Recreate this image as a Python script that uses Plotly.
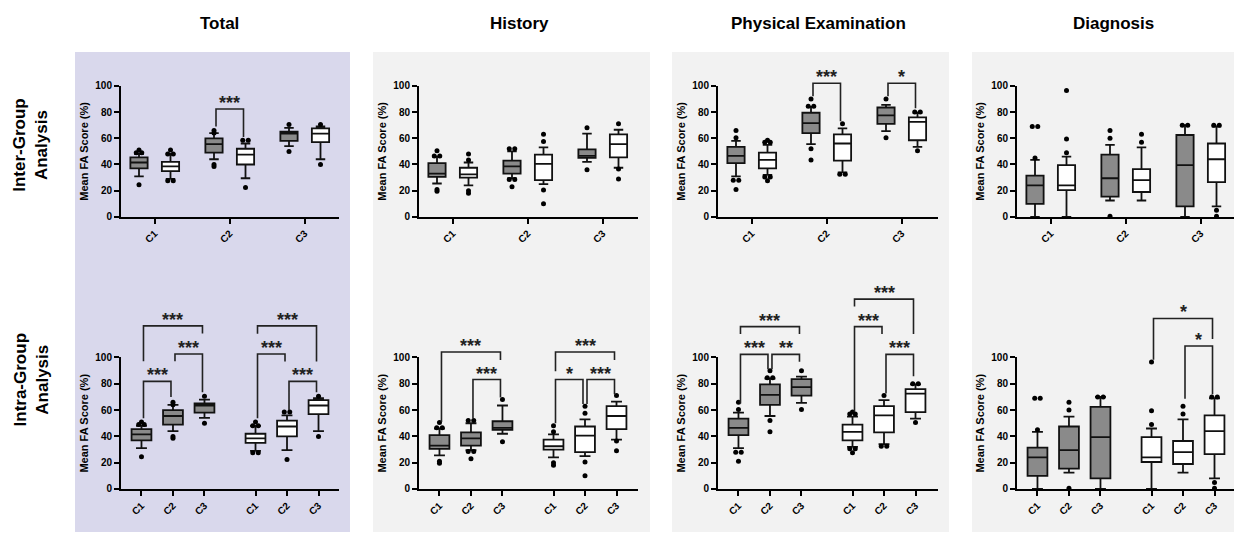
import plotly.graph_objects as go

# ---------------- data ----------------
categories = ["C1", "C2", "C3"]
panel_titles = ["Total", "History", "Physical Examination", "Diagnosis"]
row_titles = ["Inter-Group<br>Analysis", "Intra-Group<br>Analysis"]
y_ticks = [0, 20, 40, 60, 80, 100]
y_title = "Mean FA Score (%)"

# box statistics per category: [lower fence, Q1, median, Q3, upper fence]
total_gray = [[31, 37, 41.5, 45.5, 48], [44, 49, 55.5, 60, 64], [54, 58, 63.5, 65, 68]]
total_white = [[29, 35, 38.5, 42, 48], [29.5, 40, 47.5, 52, 56], [44, 57, 63.5, 67.5, 69]]
total_gray_out = [[24.5, 49, 49, 51], [38.5, 40, 64, 66], [50, 70.5]]
total_white_out = [[27.5, 27.5, 48, 48, 51], [22.5, 58.5, 58.5], [40, 70.5]]

history_gray = [[25.5, 30.5, 33, 41, 46], [29.5, 33, 38.5, 43, 50], [42, 45, 46.5, 51.5, 63.5]]
history_white = [[24, 30, 32.5, 37.5, 41.5], [25, 28, 40.5, 47.5, 53], [37.5, 45.5, 55.5, 63, 66.5]]
history_gray_out = [[19.5, 21, 46.5, 46.5, 50.5], [23, 28.5, 28.5, 52, 52], [36, 68]]
history_white_out = [[18, 20, 43.5, 48], [10, 20.5, 57.5, 63], [29, 36.5, 71]]

pe_gray = [[31, 41, 46.5, 53.5, 58], [55.5, 64, 71.5, 79.5, 84], [65.5, 71, 77.5, 83.5, 85.5]]
pe_white = [[32, 37, 43.5, 49, 55], [34, 43, 56, 63, 67.5], [53.5, 58.5, 72.5, 76, 79.5]]
pe_gray_out = [[21, 28, 28, 60.5, 66], [43.5, 52, 84.5, 84.5, 90], [60.5, 90]]
pe_white_out = [[27.5, 30.5, 30.5, 57, 57, 58.5], [32.5, 32.5, 71], [50.5, 80, 80]]

dx_gray = [[0, 10, 24, 31.5, 43.5], [12.5, 15.5, 29.5, 47.5, 55], [0, 8, 39.5, 62.5, 70]]
dx_white = [[0, 20.5, 24, 39.5, 46], [12.5, 19, 28, 36.5, 53], [8, 26.5, 44, 56, 69]]
dx_gray_out = [[45, 69, 69], [0.5, 60, 66], [70, 70]]
dx_white_out = [[49, 59.5, 96.5], [57, 63], [0.5, 5, 70, 70]]

# significance brackets: (from box, to box, bracket level, left leg end, right leg end, label)
# boxes named g1..g3 (gray C1..C3) and w1..w3 (white C1..C3)
total_inter = [("g2", "w2", 82.3, 69, 61, "***")]
history_inter = []
pe_inter = [("g2", "w2", 102, 92, 73, "***"), ("g3", "w3", 102, 92, 83, "*")]
dx_inter = []

total_intra = [("g1", "g2", 81.8, 53.8, 69.9, "***"), ("g2", "g3", 102.6, 97.2, 73.6, "***"),
               ("g1", "g3", 124, 97.2, 118.2, "***"), ("w1", "w2", 102.6, 53.8, 97, "***"),
               ("w2", "w3", 81.8, 60, 73.6, "***"), ("w1", "w3", 124, 118, 97, "***")]
history_intra = [("g2", "g3", 83.2, 53.6, 69.6, "***"), ("g1", "g3", 104.2, 51, 98, "***"),
                 ("w1", "w2", 83.2, 49.9, 64.7, "*"), ("w2", "w3", 83.2, 64.7, 72, "***"),
                 ("w1", "w3", 104.2, 89.6, 98, "***")]
pe_intra = [("g1", "g2", 102.4, 65, 91, "***"), ("g2", "g3", 102.4, 91, 96.8, "**"),
            ("g1", "g3", 123.5, 117.8, 117.8, "***"), ("w1", "w2", 123.5, 59, 117.8, "***"),
            ("w2", "w3", 102.4, 72.6, 85.7, "***"), ("w1", "w3", 144.4, 138.8, 117.8, "***")]
dx_intra = [("w1", "w3", 129.7, 98.3, 114, "*"), ("w2", "w3", 108.7, 68.6, 72, "*")]

panels = [
    dict(g=total_gray, w=total_white, go_=total_gray_out, wo=total_white_out, inter=total_inter, intra=total_intra),
    dict(g=history_gray, w=history_white, go_=history_gray_out, wo=history_white_out, inter=history_inter, intra=history_intra),
    dict(g=pe_gray, w=pe_white, go_=pe_gray_out, wo=pe_white_out, inter=pe_inter, intra=pe_intra),
    dict(g=dx_gray, w=dx_white, go_=dx_gray_out, wo=dx_white_out, inter=dx_inter, intra=dx_intra),
]

# ---------------- layout geometry ----------------
W, H = 1234, 538
FONT = "Arial, Liberation Sans, Helvetica, sans-serif"
GRAY_FILL = "#8a8a8a"
LINE = "#111111"


def px(x):
    return x / W


def py(y):
    return 1 - y / H


x_dom_px = [(121, 339), (419, 638), (718, 938), (1017, 1234)]
row_y_px = [(81.7, 215.7), (359.5, 494)]
unit_px = [75, 31.5]          # pixels per category unit (top, bottom)
x_left = [0.55, 0.35]
group_shift = 3.62            # offset of second group in intra-group panels
top_offset = 0.21
box_w = [0.23, 0.63]

fig = go.Figure()
layout = dict(width=W, height=H, margin=dict(l=0, r=0, t=0, b=0),
              paper_bgcolor="white", plot_bgcolor="rgba(0,0,0,0)",
              showlegend=False, shapes=[], annotations=[])

# panel backgrounds
bg = [((75, 47, 350, 538), "#d9d8ec"), ((373, 47, 650, 538), "#f2f2f2"),
      ((672, 47, 949, 538), "#f2f2f2"), ((972, 47, 1234, 538), "#f2f2f2")]
for (x0, y0, x1, y1), col in bg:
    layout["shapes"].append(dict(type="rect", xref="paper", yref="paper", x0=px(x0), x1=px(x1),
                                 y0=py(y1), y1=py(y0), fillcolor=col, line=dict(width=0), layer="below"))


def add_outliers(xs, outs, xa, ya, upx):
    ox, oy = [], []
    for xc, vals in zip(xs, outs):
        counts = {}
        for v in vals:
            counts[v] = counts.get(v, 0) + 1
        seen = {}
        for v in vals:
            n = counts[v]
            i = seen.get(v, 0)
            seen[v] = i + 1
            ox.append(xc + (i - (n - 1) / 2) * 5.5 / upx)
            oy.append(v)
    fig.add_trace(go.Scatter(x=ox, y=oy, mode="markers", xaxis=xa, yaxis=ya, cliponaxis=False,
                             marker=dict(color="black", size=5), hoverinfo="skip"))


def add_boxes(xs, stats, fill, xa, ya, width):
    fig.add_trace(go.Box(
        x=xs, lowerfence=[s[0] for s in stats], q1=[s[1] for s in stats], median=[s[2] for s in stats],
        q3=[s[3] for s in stats], upperfence=[s[4] for s in stats],
        xaxis=xa, yaxis=ya, fillcolor=fill, line=dict(color=LINE, width=1.8),
        width=width, whiskerwidth=0.55, boxpoints=False, hoverinfo="skip"))


for r in range(2):
    for c, p in enumerate(panels):
        k = r * 4 + c + 1
        xa = "x" if k == 1 else f"x{k}"
        ya = "y" if k == 1 else f"y{k}"
        upx = unit_px[r]
        d0, d1 = x_dom_px[c]
        xr = [x_left[r], x_left[r] + (d1 - d0) / upx]
        if r == 0:
            pos = {f"g{i+1}": i + 1 - top_offset for i in range(3)}
            pos.update({f"w{i+1}": i + 1 + top_offset for i in range(3)})
            tickvals = [1, 2, 3]
            ticktext = categories
            brackets = p["inter"]
        else:
            pos = {f"g{i+1}": i + 1 for i in range(3)}
            pos.update({f"w{i+1}": i + 1 + group_shift for i in range(3)})
            tickvals = [1, 2, 3] + [i + 1 + group_shift for i in range(3)]
            ticktext = categories + categories
            brackets = p["intra"]
        gx = [pos[f"g{i+1}"] for i in range(3)]
        wx = [pos[f"w{i+1}"] for i in range(3)]
        add_boxes(gx, p["g"], GRAY_FILL, xa, ya, box_w[r])
        add_boxes(wx, p["w"], "white", xa, ya, box_w[r])
        add_outliers(gx, p["go_"], xa, ya, upx)
        add_outliers(wx, p["wo"], xa, ya, upx)

        y0p, y1p = row_y_px[r]
        layout["xaxis" if k == 1 else f"xaxis{k}"] = dict(
            domain=[px(d0), px(d1)], range=xr, anchor=ya, tickmode="array", tickvals=tickvals,
            ticktext=ticktext, tickangle=-45, showline=True, linecolor="black", linewidth=2,
            ticks="outside", ticklen=5, tickwidth=2, tickcolor="black", showgrid=False, zeroline=False,
            tickfont=dict(family=FONT, size=10, color="black", weight="bold"), fixedrange=True)
        layout["yaxis" if k == 1 else f"yaxis{k}"] = dict(
            domain=[py(y1p), py(y0p)], range=[0, 100], anchor=xa, tickmode="array", tickvals=y_ticks,
            showline=True, linecolor="black", linewidth=2, ticks="outside", ticklen=5, tickwidth=2,
            tickcolor="black", showgrid=False, zeroline=False,
            tickfont=dict(family=FONT, size=10, color="black", weight="bold"),
            title=dict(text=y_title, font=dict(family=FONT, size=11, color="black", weight="bold"), standoff=4),
            fixedrange=True)

        ydom = ("y" if k == 1 else f"y{k}") + " domain"
        inset = 2.0 / upx
        for a, b, lev, yl, yr_, lab in brackets:
            xl = pos[a] + inset
            xrr = pos[b] - inset
            layout["shapes"].append(dict(
                type="path", xref=xa, yref=ydom,
                path=f"M {xl},{yl/100} L {xl},{lev/100} L {xrr},{lev/100} L {xrr},{yr_/100}",
                line=dict(color="#222222", width=1.6)))
            layout["annotations"].append(dict(
                x=(xl + xrr) / 2, y=lev / 100, xref=xa, yref=ydom, text=lab, showarrow=False,
                yanchor="bottom", yshift=-6, font=dict(family=FONT, size=18, color="#222222", weight="bold")))

# column titles
title_x = [219, 519, 818, 1113]
for t, xc in zip(panel_titles, title_x):
    layout["annotations"].append(dict(x=px(xc), y=py(18), xref="paper", yref="paper", text=t,
                                      showarrow=False, xanchor="center", yanchor="middle",
                                      font=dict(family=FONT, size=17, color="black", weight="bold")))
# row titles
for t, yc in zip(row_titles, [142, 382]):
    layout["annotations"].append(dict(x=px(31), y=py(yc), xref="paper", yref="paper", text=t,
                                      showarrow=False, textangle=-90, xanchor="center", yanchor="middle",
                                      font=dict(family=FONT, size=17, color="black", weight="bold")))

fig.update_layout(**layout)
pin_script = (
    "document.documentElement.style.margin='0px';"
    "document.body.style.margin='0px';"
    "document.body.style.overflow='hidden';"
    "var d=document.getElementById('{plot_id}');"
    "d.style.position='fixed';d.style.left='0px';d.style.top='0px';"
    "var vw=window.innerWidth, vh=window.innerHeight;"
    "if(vw>0 && vh>0 && (vw!==%d || vh!==%d)){"
    "d.style.width=vw+'px';d.style.height=vh+'px';"
    "Plotly.relayout(d,{width:vw,height:vh});}" % (W, H)
)
fig.write_html("out.html", config={"displayModeBar": False}, post_script=pin_script)
